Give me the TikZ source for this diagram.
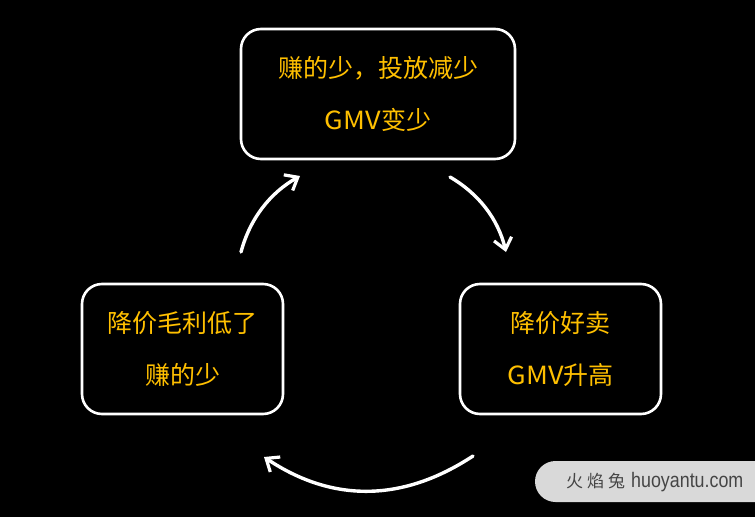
\documentclass[tikz,border=0pt]{standalone}
\usepackage{fontspec}
\usepackage{graphicx}
\setmainfont{Noto Sans CJK SC}
\newfontfamily\wmfont{Liberation Sans}
\newfontfamily\wmcjk{Noto Sans CJK SC}
\usetikzlibrary{arrows.meta}
\definecolor{gold}{HTML}{FFC000}
\definecolor{wmbg}{HTML}{D9D9D9}
\definecolor{wmtext}{HTML}{454545}
\tikzset{
  box/.style={draw=white, line width=2.6pt, rounded corners=20pt, fill=black,
    minimum height=130pt, text=gold, align=center, inner sep=0pt,
    font=\fontsize{25}{52}\selectfont},
  arr/.style={draw=white, line width=3.4pt, line cap=round,
    -{Straight Barb[length=11pt, width=18pt, line width=3.2pt]}},
}
\begin{document}
\begin{tikzpicture}[x=1pt, y=-1pt]
\fill[black] (0,0) rectangle (755,517);
\useasboundingbox (0,0) rectangle (755,517);
\node[box, minimum width=274pt] (top) at (378,94) {赚的少，投放减少\\\scalebox{1.08}[1]{GMV}变少};
\node[box, minimum width=201pt] (left) at (182.5,349) {降价毛利低了\\赚的少};
\node[box, minimum width=201pt] (right) at (560.5,349) {降价好卖\\\scalebox{1.08}[1]{GMV}升高};
\coordinate (a1s) at (241,252);
\coordinate (a1e) at (300,176);
\coordinate (a2s) at (450,177);
\coordinate (a2e) at (506,252);
\coordinate (a3s) at (473,456);
\coordinate (a3e) at (264,457);
\draw[arr] (a1s) .. controls (250,218.5) and (270,193) .. (a1e);
\draw[arr] (a2s) .. controls (479,194) and (498,219) .. (a2e);
\draw[arr] (a3s) .. controls (403,502) and (333,503) .. (a3e);
\fill[wmbg, rounded corners=20.5pt] (535,461) rectangle (790,502);
\node[text=wmtext, anchor=west, inner sep=0pt] (wm) at (566,482)
  {{\wmcjk\fontsize{17}{20}\selectfont 火\hspace{4pt}焰\hspace{4pt}兔}\hspace{6pt}\scalebox{0.85}[1]{\wmfont\fontsize{21}{24}\selectfont huoyantu.com}};
\end{tikzpicture}
\end{document}
